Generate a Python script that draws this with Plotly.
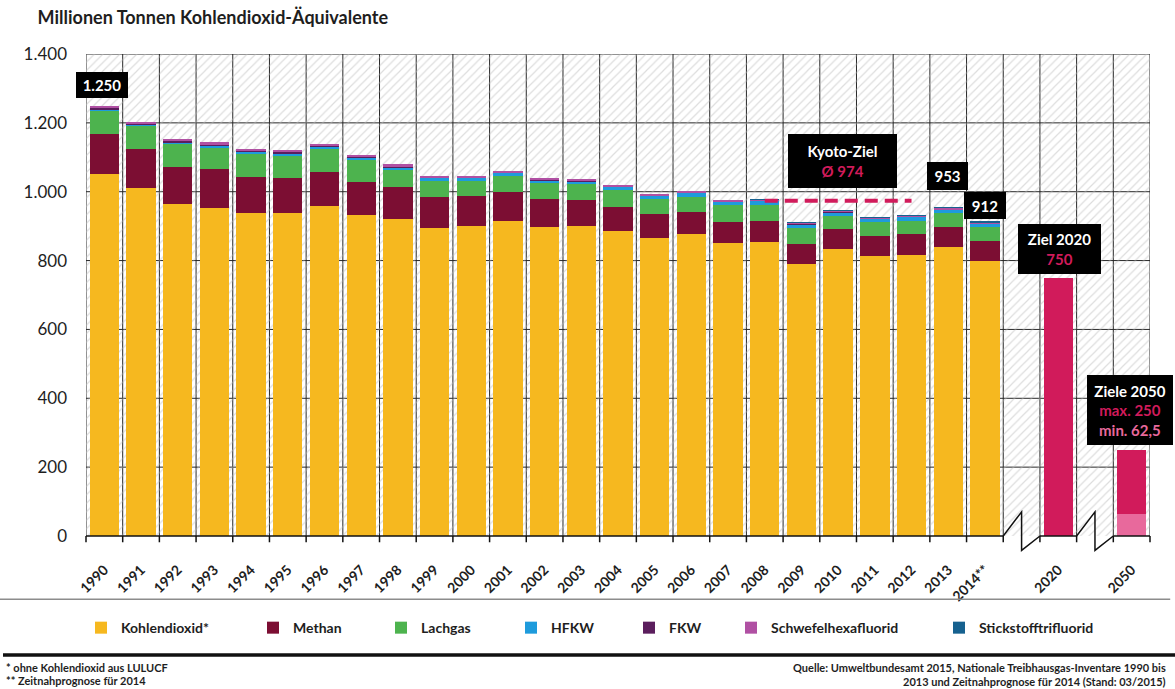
import plotly.graph_objects as go

# ---------------- data ----------------
years = ["1990", "1991", "1992", "1993", "1994", "1995", "1996", "1997", "1998", "1999",
         "2000", "2001", "2002", "2003", "2004", "2005", "2006", "2007", "2008", "2009",
         "2010", "2011", "2012", "2013", "2014**"]
kohlendioxid = [1051, 1012, 964, 954, 938, 937, 958, 931, 922, 895,
                899, 915, 898, 900, 885, 866, 877, 850, 854, 790,
                834, 812, 817, 839, 800]
methan = [117, 113, 109, 111, 106, 104, 100, 96, 92, 91,
          89, 85, 82, 77, 72, 69, 65, 63, 61, 58,
          58, 58, 60, 58, 58]
lachgas = [68, 68, 67, 61, 65, 63, 65, 64, 48, 45,
           43, 45, 44, 44, 48, 44, 44, 47, 47, 46,
           38, 41, 39, 40, 39]
hfkw = [4, 3, 4, 7, 7, 8, 8, 8, 9, 9,
        9, 10, 10, 10, 10, 10, 11, 11, 12, 12,
        11, 11, 11, 12, 11]
fkw = [3, 2, 2, 3, 2, 2, 2, 2, 2, 1,
       1, 1, 1, 1, 1, 1, 1, 1, 1, 1,
       0.5, 0.5, 0.5, 0.5, 0.5]
schwefelhexafluorid = [7, 4, 6, 8, 7, 8, 6, 5, 7, 5,
                       4, 4, 3, 3, 3, 3, 3, 3, 3, 4,
                       3.5, 3.5, 3.5, 3.5, 3.5]
stickstofftrifluorid = [0, 0, 0, 0, 0, 0, 0, 0, 0, 0,
                        0, 0, 0, 0, 0, 0, 0, 0, 0.1, 0.1,
                        0.1, 0.1, 0.1, 0.1, 0.1]

target_years = ["2020", "2050"]
ziel_2020 = [750]
ziel_2050_max = [250]
ziel_2050_min = [62.5]
kyoto_ziel = 974
kyoto_period = ["2008", "2012"]

y_ticks = [0, 200, 400, 600, 800, 1000, 1200, 1400]
y_ticktext = ["0", "200", "400", "600", "800", "1.000", "1.200", "1.400"]

# category layout: years, break, 2020, break, 2050
categories = years + ["", "2020", "", "2050"]
pos = list(range(len(categories)))
pos_of = {c: i for i, c in enumerate(categories) if c}

FONT = "Lato"
DARK = "#1e1e1e"
CRIMSON = "#d11b5b"
PINK = "#e8699c"
CLEAR = "rgba(0,0,0,0)"

x_lo, x_hi = -0.5, len(categories) - 0.5
y_hi = y_ticks[-1]


def xp(v):
    return (v - x_lo) / (x_hi - x_lo)


fig = go.Figure()

# hatched background
fig.add_trace(go.Bar(
    x=pos, y=[y_hi] * len(pos), base=[0] * len(pos), width=1.0,
    marker=dict(color=CLEAR, line=dict(width=0),
                pattern=dict(shape="/", size=6, solidity=0.2, fgcolor="#bcbcbc",
                             bgcolor=CLEAR, fillmode="overlay")),
    showlegend=False, hoverinfo="skip"))

series = [
    ("Kohlendioxid*", kohlendioxid, "#f6b81f"),
    ("Methan", methan, "#7c0e33"),
    ("Lachgas", lachgas, "#4db34e"),
    ("HFKW", hfkw, "#1e9bdc"),
    ("FKW", fkw, "#5b1e5d"),
    ("Schwefelhexafluorid", schwefelhexafluorid, "#b050a3"),
    ("Stickstofftrifluorid", stickstofftrifluorid, "#16618f"),
]
legend_sq_px = [100, 272, 400, 530, 648, 750, 958]

year_pos = [pos_of[y] for y in years]
base = [0] * len(years)
for k, (name, vals, col) in enumerate(series):
    lg = "legend" if k == 0 else f"legend{k + 1}"
    fig.add_trace(go.Bar(
        x=year_pos, y=vals, base=list(base), width=0.8, name=name,
        marker=dict(color=col, line=dict(width=0)), legend=lg))
    base = [b + v for b, v in zip(base, vals)]

# targets
fig.add_trace(go.Bar(x=[pos_of["2020"]], y=ziel_2020, base=[0], width=0.8,
                     marker=dict(color=CRIMSON, line=dict(width=0)), showlegend=False))
fig.add_trace(go.Bar(x=[pos_of["2050"]], y=ziel_2050_min, base=[0], width=0.8,
                     marker=dict(color=PINK, line=dict(width=0)), showlegend=False))
fig.add_trace(go.Bar(x=[pos_of["2050"]], y=[ziel_2050_max[0] - ziel_2050_min[0]],
                     base=ziel_2050_min, width=0.8,
                     marker=dict(color=CRIMSON, line=dict(width=0)), showlegend=False))

# Kyoto line
fig.add_trace(go.Scatter(x=[pos_of[kyoto_period[0]], pos_of[kyoto_period[1]]],
                         y=[kyoto_ziel, kyoto_ziel], mode="lines",
                         line=dict(color=CRIMSON, width=4, dash="13px,7px"),
                         showlegend=False, hoverinfo="skip"))

shapes = []
# horizontal grid
for yv in y_ticks[1:]:
    shapes.append(dict(type="line", xref="x", yref="y", x0=x_lo, x1=x_hi, y0=yv, y1=yv,
                       line=dict(color="#262626", width=1), layer="below"))
# vertical grid
for i in range(len(categories) + 1):
    b = i - 0.5
    shapes.append(dict(type="line", xref="x", yref="y", x0=b, x1=b, y0=0, y1=y_hi,
                       line=dict(color="#262626", width=1), layer="below"))
    # tick marks below axis
    shapes.append(dict(type="line", xref="paper", yref="paper", x0=xp(b), x1=xp(b),
                       y0=0, y1=-0.013, line=dict(color="#111", width=1.5)))
# baseline segments (interrupted at breaks)
for i, c in enumerate(categories):
    if c:
        shapes.append(dict(type="line", xref="paper", yref="paper",
                           x0=xp(i - 0.5), x1=xp(i + 0.5), y0=0, y1=0,
                           line=dict(color="#111", width=1.5)))
    else:
        path = (f"M{xp(i - 0.5)},0 L{xp(i)},0.05 L{xp(i)},-0.03 L{xp(i + 0.5)},0")
        shapes.append(dict(type="path", xref="paper", yref="paper", path=path,
                           line=dict(color="#111", width=1.5)))
# separator lines
shapes.append(dict(type="line", xref="paper", yref="paper", x0=-0.081, x1=1.019,
                   y0=-0.131, y1=-0.131, line=dict(color="#8c8c8c", width=1.5)))
shapes.append(dict(type="line", xref="paper", yref="paper", x0=-0.078, x1=1.03,
                   y0=-0.247, y1=-0.247, line=dict(color="#111", width=3.5)))

annos = []


def box(x, y, text, w, h):
    annos.append(dict(x=x, y=y, xref="x", yref="y", text=text, showarrow=False,
                      font=dict(family=FONT, size=15, color="white", weight="bold"),
                      bgcolor="black", bordercolor="black", borderwidth=1, borderpad=2,
                      width=w, height=h, align="center", valign="middle"))


box(pos_of["1990"] - 0.06, 1310, "1.250", 46, 20)
box(20.12, 1089, f"Kyoto-Ziel<br><span style='color:{CRIMSON}'>Ø 974</span>", 103, 48)
box(pos_of["2013"] - 0.02, 1046, "953", 35, 22)
box(pos_of["2014**"], 960, "912", 36, 21)
box(pos_of["2020"] + 0.03, 834, f"Ziel 2020<br><span style='color:{CRIMSON}'>750</span>", 77, 44)
box(pos_of["2050"] - 0.05, 366,
    f"Ziele 2050<br><span style='color:{CRIMSON}'>max. 250</span>"
    f"<br><span style='color:{PINK}'>min. 62,5</span>", 80, 64)

foot = dict(family=FONT, size=11, color=DARK, weight="bold")
annos += [
    dict(x=-0.077, y=-0.272, xref="paper", yref="paper", xanchor="left", yanchor="middle",
         text="* ohne Kohlendioxid aus LULUCF", showarrow=False, font=foot),
    dict(x=-0.077, y=-0.299, xref="paper", yref="paper", xanchor="left", yanchor="middle",
         text="** Zeitnahprognose für 2014", showarrow=False, font=foot),
    dict(x=1.017, y=-0.272, xref="paper", yref="paper", xanchor="right", yanchor="middle",
         text="Quelle: Umweltbundesamt 2015, Nationale Treibhausgas-Inventare 1990 bis",
         showarrow=False, font=foot),
    dict(x=1.017, y=-0.301, xref="paper", yref="paper", xanchor="right", yanchor="middle",
         text="2013 und Zeitnahprognose für 2014 (Stand: 03/2015)",
         showarrow=False, font=foot),
]

legends = {}
for k, sq in enumerate(legend_sq_px):
    key = "legend" if k == 0 else f"legend{k + 1}"
    legends[key] = dict(x=(sq - 19 - 86) / 1064, y=-0.191, xanchor="left", yanchor="middle",
                        orientation="h", bgcolor=CLEAR, borderwidth=0,
                        font=dict(family=FONT, size=14, color=DARK, weight="bold"),
                        itemwidth=30)

lab_pos = [i for i, c in enumerate(categories) if c]
lab_txt = [c for c in categories if c]

fig.update_layout(
    width=1175, height=689, autosize=False,
    margin=dict(l=86, r=25, t=54, b=153),
    paper_bgcolor="white", plot_bgcolor="white",
    barmode="overlay", bargap=0,
    title=dict(text="Millionen Tonnen Kohlendioxid-Äquivalente", xref="container",
               yref="container", x=0.032, y=0.974, xanchor="left", yanchor="middle",
               font=dict(family=FONT, size=18, color=DARK, weight="bold")),
    xaxis=dict(range=[x_lo, x_hi], tickvals=lab_pos, ticktext=lab_txt, tickangle=-45,
               showgrid=False, zeroline=False, showline=False, ticks="",
               tickfont=dict(family=FONT, size=14, color=DARK, weight="bold"),
               ticklabelstandoff=22),
    yaxis=dict(range=[0, y_hi], tickvals=y_ticks, ticktext=y_ticktext, showgrid=False,
               zeroline=False, showline=False, ticks="",
               tickfont=dict(family=FONT, size=17, color=DARK), ticklabelstandoff=18),
    shapes=shapes, annotations=annos, showlegend=True,
    **legends,
)

fig.write_html("out.html", config={"displayModeBar": False},
               post_script="document.body.style.margin='0';")
